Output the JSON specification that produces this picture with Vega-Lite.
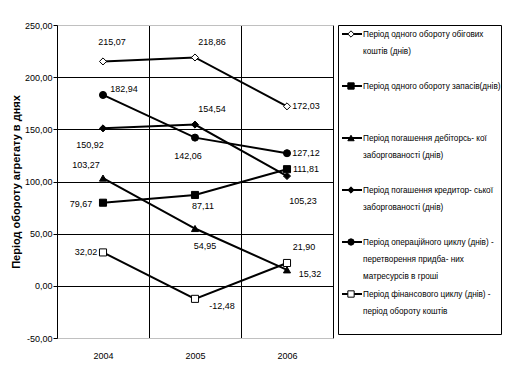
{
  "$schema": "https://vega.github.io/schema/vega-lite/v6.json",
  "padding": {"left": 9, "top": 20, "right": 9, "bottom": 5},
  "background": "white",
  "datasets": {
    "pts": [
      {"id": "s1-2004", "series": "Період одного обороту обігових\nкоштів (днів)", "year": "2004", "value": 215.07},
      {"id": "s1-2005", "series": "Період одного обороту обігових\nкоштів (днів)", "year": "2005", "value": 218.86},
      {"id": "s1-2006", "series": "Період одного обороту обігових\nкоштів (днів)", "year": "2006", "value": 172.03},
      {"id": "s2-2004", "series": "Період одного обороту запасів(днів)", "year": "2004", "value": 79.67},
      {"id": "s2-2005", "series": "Період одного обороту запасів(днів)", "year": "2005", "value": 87.11},
      {"id": "s2-2006", "series": "Період одного обороту запасів(днів)", "year": "2006", "value": 111.81},
      {"id": "s3-2004", "series": "Період погашення дебіторсь- кої\nзаборгованості (днів)", "year": "2004", "value": 103.27},
      {"id": "s3-2005", "series": "Період погашення дебіторсь- кої\nзаборгованості (днів)", "year": "2005", "value": 54.95},
      {"id": "s3-2006", "series": "Період погашення дебіторсь- кої\nзаборгованості (днів)", "year": "2006", "value": 15.32},
      {"id": "s4-2004", "series": "Період погашення кредитор-  ської\nзаборгованості (днів)", "year": "2004", "value": 150.92},
      {"id": "s4-2005", "series": "Період погашення кредитор-  ської\nзаборгованості (днів)", "year": "2005", "value": 154.54},
      {"id": "s4-2006", "series": "Період погашення кредитор-  ської\nзаборгованості (днів)", "year": "2006", "value": 105.23},
      {"id": "s5-2004", "series": "Період операційного циклу (днів) -\nперетворення придба- них\nматресурсів в гроші", "year": "2004", "value": 182.94},
      {"id": "s5-2005", "series": "Період операційного циклу (днів) -\nперетворення придба- них\nматресурсів в гроші", "year": "2005", "value": 142.06},
      {"id": "s5-2006", "series": "Період операційного циклу (днів) -\nперетворення придба- них\nматресурсів в гроші", "year": "2006", "value": 127.12},
      {"id": "s6-2004", "series": "Період фінансового циклу (днів) -\nперіод обороту коштів", "year": "2004", "value": 32.02},
      {"id": "s6-2005", "series": "Період фінансового циклу (днів) -\nперіод обороту коштів", "year": "2005", "value": -12.48},
      {"id": "s6-2006", "series": "Період фінансового циклу (днів) -\nперіод обороту коштів", "year": "2006", "value": 21.90}
    ],
    "leg": [
      {"series": "Період одного обороту обігових\nкоштів (днів)"},
      {"series": "Період одного обороту запасів(днів)"},
      {"series": "Період погашення дебіторсь- кої\nзаборгованості (днів)"},
      {"series": "Період погашення кредитор-  ської\nзаборгованості (днів)"},
      {"series": "Період операційного циклу (днів) -\nперетворення придба- них\nматресурсів в гроші"},
      {"series": "Період фінансового циклу (днів) -\nперіод обороту коштів"}
    ]
  },
  "spacing": 5,
  "bounds": "flush",
  "hconcat": [
    {
      "width": 276,
      "height": 313,
      "view": {"stroke": "#c0c0c0", "strokeWidth": 1},
      "data": {"name": "pts"},
      "encoding": {
        "x": {
          "field": "year", "type": "ordinal", "bandPosition": 0.5,
          "scale": {"type": "band", "paddingInner": 0, "paddingOuter": 0},
          "axis": {
            "title": null, "labelAngle": 0, "ticks": false, "domain": false,
            "tickBand": "extent", "grid": true,
            "gridColor": {"condition": {"test": "datum.extra", "value": "#c0c0c0"}, "value": "#000000"},
            "gridOpacity": 1, "labelPadding": 13
          }
        },
        "y": {
          "field": "value", "type": "quantitative",
          "scale": {"domain": [-50, 250], "nice": false, "zero": false},
          "axis": {
            "title": "Період обороту агрегату в днях",
            "values": [-50, 0, 50, 100, 150, 200, 250],
            "format": ".2f", "tickSize": 4, "tickColor": "#000000", "domainColor": "#000000",
            "labelPadding": 1, "grid": true, "gridOpacity": 1,
            "gridColor": {"condition": {"test": "datum.value === 250 || datum.value === -50", "value": "#c0c0c0"}, "value": "#000000"},
            "titleFont": "Liberation Sans", "titleFontSize": 11, "titleFontWeight": "bold",
            "titlePadding": 3, "titleColor": "#000000"
          }
        }
      },
      "layer": [
        {
          "mark": {"type": "line", "color": "#000000", "strokeWidth": 2},
          "encoding": {"detail": {"field": "series"}}
        },
        {
          "mark": {"type": "point", "stroke": "#000000", "strokeWidth": 1, "opacity": 1, "fillOpacity": 1, "size": 50},
          "encoding": {
            "shape": {"field": "series", "type": "nominal", "legend": null,
              "scale": {"domain": ["Період одного обороту обігових\nкоштів (днів)", "Період одного обороту запасів(днів)", "Період погашення дебіторсь- кої\nзаборгованості (днів)", "Період погашення кредитор-  ської\nзаборгованості (днів)", "Період операційного циклу (днів) -\nперетворення придба- них\nматресурсів в гроші", "Період фінансового циклу (днів) -\nперіод обороту коштів"],
                "range": ["diamond", "square", "triangle-up", "diamond", "circle", "square"]}},
            "fill": {"field": "series", "type": "nominal", "legend": null,
              "scale": {"domain": ["Період одного обороту обігових\nкоштів (днів)", "Період одного обороту запасів(днів)", "Період погашення дебіторсь- кої\nзаборгованості (днів)", "Період погашення кредитор-  ської\nзаборгованості (днів)", "Період операційного циклу (днів) -\nперетворення придба- них\nматресурсів в гроші", "Період фінансового циклу (днів) -\nперіод обороту коштів"],
                "range": ["#ffffff", "#000000", "#000000", "#000000", "#000000", "#ffffff"]}}
          }
        },
        {"transform": [{"filter": {"field": "id", "oneOf": ["s1-2006", "s5-2006", "s2-2006"]}}],
         "mark": {"type": "text", "dx": 19, "dy": 0},
         "encoding": {"text": {"field": "value", "type": "quantitative", "format": ".2f"}}},
        {"transform": [{"filter": {"field": "id", "oneOf": ["s1-2004"]}}],
         "mark": {"type": "text", "dx": 9, "dy": -19},
         "encoding": {"text": {"field": "value", "type": "quantitative", "format": ".2f"}}},
        {"transform": [{"filter": {"field": "id", "oneOf": ["s1-2005", "s4-2005", "s6-2006"]}}],
         "mark": {"type": "text", "dx": 17, "dy": -15.5},
         "encoding": {"text": {"field": "value", "type": "quantitative", "format": ".2f"}}},
        {"transform": [{"filter": {"field": "id", "oneOf": ["s5-2004"]}}],
         "mark": {"type": "text", "dx": 21, "dy": -6},
         "encoding": {"text": {"field": "value", "type": "quantitative", "format": ".2f"}}},
        {"transform": [{"filter": {"field": "id", "oneOf": ["s4-2004"]}}],
         "mark": {"type": "text", "dx": -13, "dy": 17},
         "encoding": {"text": {"field": "value", "type": "quantitative", "format": ".2f"}}},
        {"transform": [{"filter": {"field": "id", "oneOf": ["s5-2005"]}}],
         "mark": {"type": "text", "dx": -7, "dy": 18},
         "encoding": {"text": {"field": "value", "type": "quantitative", "format": ".2f"}}},
        {"transform": [{"filter": {"field": "id", "oneOf": ["s3-2004"]}}],
         "mark": {"type": "text", "dx": -17, "dy": -13},
         "encoding": {"text": {"field": "value", "type": "quantitative", "format": ".2f"}}},
        {"transform": [{"filter": {"field": "id", "oneOf": ["s4-2006"]}}],
         "mark": {"type": "text", "dx": 16, "dy": 25},
         "encoding": {"text": {"field": "value", "type": "quantitative", "format": ".2f"}}},
        {"transform": [{"filter": {"field": "id", "oneOf": ["s2-2004"]}}],
         "mark": {"type": "text", "dx": -22, "dy": 1},
         "encoding": {"text": {"field": "value", "type": "quantitative", "format": ".2f"}}},
        {"transform": [{"filter": {"field": "id", "oneOf": ["s6-2004"]}}],
         "mark": {"type": "text", "dx": -17, "dy": 0},
         "encoding": {"text": {"field": "value", "type": "quantitative", "format": ".2f"}}},
        {"transform": [{"filter": {"field": "id", "oneOf": ["s2-2005"]}}],
         "mark": {"type": "text", "dx": 8, "dy": 11},
         "encoding": {"text": {"field": "value", "type": "quantitative", "format": ".2f"}}},
        {"transform": [{"filter": {"field": "id", "oneOf": ["s3-2005"]}}],
         "mark": {"type": "text", "dx": 10, "dy": 17},
         "encoding": {"text": {"field": "value", "type": "quantitative", "format": ".2f"}}},
        {"transform": [{"filter": {"field": "id", "oneOf": ["s3-2006"]}}],
         "mark": {"type": "text", "dx": 23, "dy": 4},
         "encoding": {"text": {"field": "value", "type": "quantitative", "format": ".2f"}}},
        {"transform": [{"filter": {"field": "id", "oneOf": ["s6-2005"]}}],
         "mark": {"type": "text", "dx": 27, "dy": 7},
         "encoding": {"text": {"field": "value", "type": "quantitative", "format": ".2f"}}}
      ]
    },
    {
      "width": 163,
      "height": 309,
      "view": {"stroke": "#000000", "strokeWidth": 1},
      "data": {"name": "leg"},
      "encoding": {
        "y": {"field": "series", "type": "nominal", "sort": null, "axis": null,
          "scale": {"type": "point", "range": [9, 269], "padding": 0}}
      },
      "layer": [
        {"mark": {"type": "rule", "color": "#000000", "strokeWidth": 2},
         "encoding": {"x": {"value": 4}, "x2": {"value": 24}}},
        {"mark": {"type": "point", "stroke": "#000000", "strokeWidth": 1, "opacity": 1, "fillOpacity": 1, "size": 40},
         "encoding": {
           "x": {"value": 13},
           "shape": {"field": "series", "type": "nominal", "legend": null,
             "scale": {"domain": ["Період одного обороту обігових\nкоштів (днів)", "Період одного обороту запасів(днів)", "Період погашення дебіторсь- кої\nзаборгованості (днів)", "Період погашення кредитор-  ської\nзаборгованості (днів)", "Період операційного циклу (днів) -\nперетворення придба- них\nматресурсів в гроші", "Період фінансового циклу (днів) -\nперіод обороту коштів"],
               "range": ["diamond", "square", "triangle-up", "diamond", "circle", "square"]}},
           "fill": {"field": "series", "type": "nominal", "legend": null,
             "scale": {"domain": ["Період одного обороту обігових\nкоштів (днів)", "Період одного обороту запасів(днів)", "Період погашення дебіторсь- кої\nзаборгованості (днів)", "Період погашення кредитор-  ської\nзаборгованості (днів)", "Період операційного циклу (днів) -\nперетворення придба- них\nматресурсів в гроші", "Період фінансового циклу (днів) -\nперіод обороту коштів"],
               "range": ["#ffffff", "#000000", "#000000", "#000000", "#000000", "#ffffff"]}}
         }},
        {"mark": {"type": "text", "align": "left", "baseline": "alphabetic", "dy": 3, "lineBreak": "\n", "lineHeight": 17, "fontSize": 8.2},
         "encoding": {"x": {"value": 25}, "text": {"field": "series"}}}
      ]
    }
  ],
  "config": {
    "locale": {"number": {"decimal": ",", "thousands": " ", "grouping": [3], "currency": ["", ""], "minus": "-"}},
    "axis": {"labelFont": "Liberation Sans", "labelFontSize": 9, "labelColor": "#000000"},
    "text": {"font": "Liberation Sans", "fontSize": 9, "color": "#000000"}
  }
}
